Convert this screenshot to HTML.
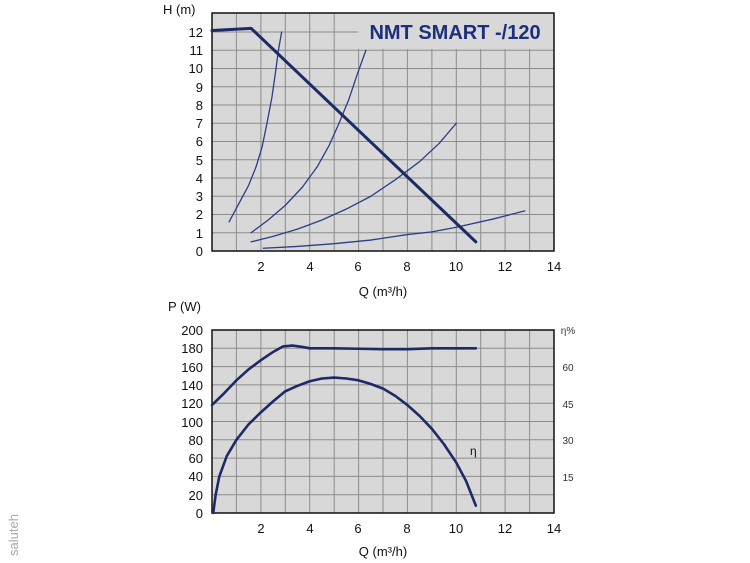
<!DOCTYPE html>
<html><head><meta charset="utf-8"><style>
html,body{margin:0;padding:0;background:#fff;}
svg{display:block;font-family:"Liberation Sans",sans-serif;}
</style></head><body>
<svg width="750" height="563" viewBox="0 0 750 563" xmlns="http://www.w3.org/2000/svg">
<!-- TOP CHART -->
<rect x="212" y="13" width="342" height="238" fill="#d8d8d8"/>
<g stroke="#8c8c8c" stroke-width="1">
<line x1="236.4" y1="13" x2="236.4" y2="251"/><line x1="260.9" y1="13" x2="260.9" y2="251"/>
<line x1="285.3" y1="13" x2="285.3" y2="251"/><line x1="309.7" y1="13" x2="309.7" y2="251"/>
<line x1="334.2" y1="13" x2="334.2" y2="251"/>
<line x1="358.6" y1="49" x2="358.6" y2="251"/><line x1="383" y1="49" x2="383" y2="251"/>
<line x1="407.4" y1="49" x2="407.4" y2="251"/><line x1="431.9" y1="49" x2="431.9" y2="251"/>
<line x1="456.3" y1="49" x2="456.3" y2="251"/><line x1="480.7" y1="49" x2="480.7" y2="251"/>
<line x1="505.1" y1="49" x2="505.1" y2="251"/><line x1="529.6" y1="49" x2="529.6" y2="251"/>
<line x1="212" y1="232.75" x2="554" y2="232.75"/><line x1="212" y1="214.5" x2="554" y2="214.5"/>
<line x1="212" y1="196.25" x2="554" y2="196.25"/><line x1="212" y1="178" x2="554" y2="178"/>
<line x1="212" y1="159.75" x2="554" y2="159.75"/><line x1="212" y1="141.5" x2="554" y2="141.5"/>
<line x1="212" y1="123.25" x2="554" y2="123.25"/><line x1="212" y1="105" x2="554" y2="105"/>
<line x1="212" y1="86.75" x2="554" y2="86.75"/><line x1="212" y1="68.5" x2="554" y2="68.5"/>
<line x1="212" y1="50.25" x2="554" y2="50.25"/><line x1="212" y1="32" x2="358" y2="32"/>
</g>
<rect x="212" y="13" width="342" height="238" fill="none" stroke="#111" stroke-width="1.5"/>
<text x="455" y="39" font-size="20" font-weight="bold" fill="#1c2f7e" text-anchor="middle">NMT SMART -/120</text>
<g transform="matrix(24.43 0 0 -18.25 212 251)" fill="none" stroke="#2a3f85" stroke-linejoin="round" stroke-linecap="round">
<polyline vector-effect="non-scaling-stroke" stroke-width="1.3" points="0.7,1.6 1.1,2.6 1.5,3.6 1.8,4.6 2.05,5.7 2.25,7 2.45,8.4 2.6,9.8 2.72,11 2.85,12"/>
<polyline vector-effect="non-scaling-stroke" stroke-width="1.3" points="1.6,1 2.3,1.7 3,2.5 3.7,3.5 4.3,4.6 4.8,5.8 5.2,7 5.6,8.3 5.95,9.7 6.3,11"/>
<polyline vector-effect="non-scaling-stroke" stroke-width="1.3" points="1.6,0.5 2.5,0.8 3.5,1.2 4.5,1.7 5.5,2.3 6.5,3 7.5,3.9 8.5,4.9 9.3,5.9 10,7"/>
<polyline vector-effect="non-scaling-stroke" stroke-width="1.3" points="2.1,0.15 3.5,0.25 5,0.4 6.5,0.6 8,0.9 9,1.05 10,1.3 11.5,1.75 12.8,2.2"/>
<polyline vector-effect="non-scaling-stroke" stroke-width="3" stroke="#1c2a66" points="0,12.08 1.6,12.2 10.8,0.5"/>
</g>
<g font-size="13" fill="#111" text-anchor="end">
<text x="203" y="256">0</text><text x="203" y="238">1</text><text x="203" y="219">2</text>
<text x="203" y="201">3</text><text x="203" y="183">4</text><text x="203" y="165">5</text>
<text x="203" y="146">6</text><text x="203" y="128">7</text><text x="203" y="110">8</text>
<text x="203" y="92">9</text><text x="203" y="73">10</text><text x="203" y="55">11</text>
<text x="203" y="37">12</text>
</g>
<text x="163" y="14" font-size="13" fill="#111">H (m)</text>
<g font-size="13" fill="#111" text-anchor="middle">
<text x="261" y="271">2</text><text x="310" y="271">4</text><text x="358" y="271">6</text>
<text x="407" y="271">8</text><text x="456" y="271">10</text><text x="505" y="271">12</text>
<text x="554" y="271">14</text>
<text x="383" y="296">Q (m³/h)</text>
</g>

<!-- BOTTOM CHART -->
<rect x="212" y="330" width="342" height="183" fill="#d8d8d8"/>
<g stroke="#8c8c8c" stroke-width="1">
<line x1="236.4" y1="330" x2="236.4" y2="513"/><line x1="260.9" y1="330" x2="260.9" y2="513"/>
<line x1="285.3" y1="330" x2="285.3" y2="513"/><line x1="309.7" y1="330" x2="309.7" y2="513"/>
<line x1="334.2" y1="330" x2="334.2" y2="513"/><line x1="358.6" y1="330" x2="358.6" y2="513"/>
<line x1="383" y1="330" x2="383" y2="513"/><line x1="407.4" y1="330" x2="407.4" y2="513"/>
<line x1="431.9" y1="330" x2="431.9" y2="513"/><line x1="456.3" y1="330" x2="456.3" y2="513"/>
<line x1="480.7" y1="330" x2="480.7" y2="513"/><line x1="505.1" y1="330" x2="505.1" y2="513"/>
<line x1="529.6" y1="330" x2="529.6" y2="513"/>
<line x1="212" y1="494.7" x2="554" y2="494.7"/><line x1="212" y1="476.4" x2="554" y2="476.4"/>
<line x1="212" y1="458.1" x2="554" y2="458.1"/><line x1="212" y1="439.8" x2="554" y2="439.8"/>
<line x1="212" y1="421.5" x2="554" y2="421.5"/><line x1="212" y1="403.2" x2="554" y2="403.2"/>
<line x1="212" y1="384.9" x2="554" y2="384.9"/><line x1="212" y1="366.6" x2="554" y2="366.6"/>
<line x1="212" y1="348.3" x2="554" y2="348.3"/>
</g>
<rect x="212" y="330" width="342" height="183" fill="none" stroke="#111" stroke-width="1.5"/>
<g transform="matrix(24.43 0 0 -0.915 212 513)" fill="none" stroke="#1c2a66" stroke-linejoin="round" stroke-linecap="round">
<polyline vector-effect="non-scaling-stroke" stroke-width="2.6" points="0,118 0.5,131 1,145 1.5,157 2,167 2.5,176 2.9,182 3.3,183 3.7,181.5 4,180 5,180 6,179.5 7,179 8,179 9,180 10,180 10.8,180"/>
<polyline vector-effect="non-scaling-stroke" stroke-width="2.6" points="0.05,0 0.15,20 0.3,40 0.6,62 1,80 1.5,97 2,110 2.5,122 3,133 3.5,139 4,144 4.5,147 5,148 5.5,147 6,145 6.5,141 7,136 7.5,128 8,118 8.5,106 9,92 9.5,75 10,55 10.4,35 10.8,8"/>
</g>
<text x="470" y="455" font-size="12" fill="#111">η</text>
<g font-size="13" fill="#111" text-anchor="end">
<text x="203" y="518">0</text><text x="203" y="500">20</text><text x="203" y="481">40</text>
<text x="203" y="463">60</text><text x="203" y="445">80</text><text x="203" y="427">100</text>
<text x="203" y="408">120</text><text x="203" y="390">140</text><text x="203" y="372">160</text>
<text x="203" y="353">180</text><text x="203" y="335">200</text>
</g>
<text x="168" y="311" font-size="13" fill="#111">P (W)</text>
<g font-size="10" fill="#333" text-anchor="middle">
<text x="568" y="334">η%</text><text x="568" y="371">60</text><text x="568" y="408">45</text>
<text x="568" y="444">30</text><text x="568" y="481">15</text>
</g>
<g font-size="13" fill="#111" text-anchor="middle">
<text x="261" y="533">2</text><text x="310" y="533">4</text><text x="358" y="533">6</text>
<text x="407" y="533">8</text><text x="456" y="533">10</text><text x="505" y="533">12</text>
<text x="554" y="533">14</text>
<text x="383" y="556">Q (m³/h)</text>
</g>
<text transform="translate(18,556) rotate(-90)" font-size="13" fill="#aaa">saluteh</text>
</svg>
</body></html>
